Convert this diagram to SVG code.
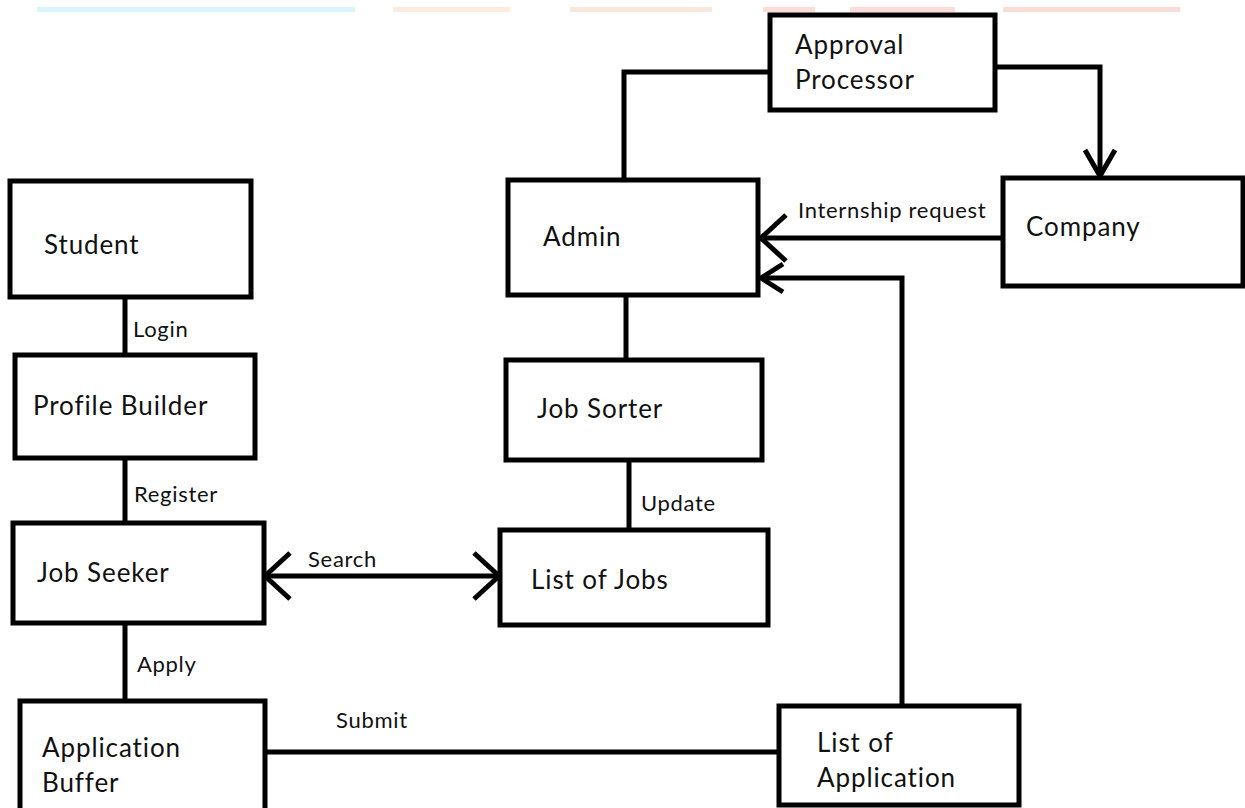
<svg xmlns="http://www.w3.org/2000/svg" width="1245" height="808" viewBox="0 0 1245 808">
<style>
.box{fill:#fff;stroke:#000;stroke-width:5}
.t{font-family:Lato,"Open Sans",sans-serif;font-size:26px;letter-spacing:0.9px;fill:#111}
.l{font-family:Lato,"Open Sans",sans-serif;font-size:22px;letter-spacing:0.7px;fill:#111}
.c{fill:none;stroke:#000;stroke-width:5}
</style>
<defs>
<marker id="chev" markerUnits="userSpaceOnUse" viewBox="-30 -28 34 56" refX="0" refY="0" markerWidth="34" markerHeight="56" orient="auto-start-reverse">
<path d="M-25,-23 L0,0 L-25,23" fill="none" stroke="#000" stroke-width="5"/>
</marker>
<marker id="chevn" markerUnits="userSpaceOnUse" viewBox="-30 -28 34 56" refX="0" refY="0" markerWidth="34" markerHeight="56" orient="auto">
<path d="M-26,-15 L0,0 L-26,15" fill="none" stroke="#000" stroke-width="5"/>
</marker>
<marker id="chevs" markerUnits="userSpaceOnUse" viewBox="-30 -28 34 56" refX="0" refY="0" markerWidth="34" markerHeight="56" orient="auto">
<path d="M-22,-14 L0,0 L-22,14" fill="none" stroke="#000" stroke-width="5"/>
</marker>
</defs>
<rect width="1245" height="808" fill="#fff"/>
<g id="bars">
<rect x="37" y="7" width="318" height="5" fill="#d6f6fa"/>
<rect x="393" y="7" width="117" height="5" fill="#fcebdf"/>
<rect x="570" y="7" width="142" height="5" fill="#fbe6dc"/>
<rect x="763" y="7" width="52" height="5" fill="#fbdcd8"/>
<rect x="850" y="7" width="105" height="5" fill="#fbdcd8"/>
<rect x="1003" y="7" width="177" height="5" fill="#fbdcd8"/>
</g>
<g id="connectors">
<line class="c" x1="125" y1="297" x2="125" y2="355"/>
<line class="c" x1="125" y1="458" x2="125" y2="523"/>
<line class="c" x1="125" y1="623" x2="125" y2="701"/>
<line class="c" x1="265" y1="752" x2="779" y2="752"/>
<line class="c" x1="265" y1="576" x2="499" y2="576" marker-start="url(#chev)" marker-end="url(#chev)"/>
<line class="c" x1="626" y1="295" x2="626" y2="360"/>
<line class="c" x1="629" y1="460" x2="629" y2="530"/>
<polyline class="c" points="624,180 624,72 770,72"/>
<polyline class="c" points="995,67 1100,67 1100,176" marker-end="url(#chevn)"/>
<line class="c" x1="1003" y1="238" x2="761" y2="238" marker-end="url(#chev)"/>
<polyline class="c" points="902,706 902,278 761,278" marker-end="url(#chevs)"/>
<text class="l" x="133" y="337">Login</text>
<text class="l" x="134" y="502">Register</text>
<text class="l" x="137" y="672">Apply</text>
<text class="l" x="336" y="728">Submit</text>
<text class="l" x="308" y="567">Search</text>
<text class="l" x="641" y="511">Update</text>
<text class="l" x="798" y="218">Internship request</text>
</g>
<g id="approval"><rect class="box" x="770" y="15" width="225" height="95"/><text class="t" x="795" y="54">Approval</text><text class="t" x="795" y="89">Processor</text></g>
<g id="admin"><rect class="box" x="508" y="180" width="250" height="115"/><text class="t" x="543" y="246">Admin</text></g>
<g id="company"><rect class="box" x="1003" y="178" width="240" height="108"/><text class="t" x="1026" y="236">Company</text></g>
<g id="student"><rect class="box" x="10" y="181" width="241" height="116"/><text class="t" x="44" y="254">Student</text></g>
<g id="profile"><rect class="box" x="15" y="355" width="240" height="103"/><text class="t" x="33" y="415">Profile Builder</text></g>
<g id="jobsorter"><rect class="box" x="506" y="360" width="256" height="100"/><text class="t" x="537" y="418">Job Sorter</text></g>
<g id="jobseeker"><rect class="box" x="13" y="523" width="251" height="100"/><text class="t" x="37" y="582">Job Seeker</text></g>
<g id="listjobs"><rect class="box" x="500" y="530" width="268" height="95"/><text class="t" x="531" y="589">List of Jobs</text></g>
<g id="appbuffer"><rect class="box" x="20" y="701" width="245" height="112"/><text class="t" x="42" y="757">Application</text><text class="t" x="42" y="792">Buffer</text></g>
<g id="listapp"><rect class="box" x="779" y="706" width="240" height="99"/><text class="t" x="817" y="752">List of</text><text class="t" x="817" y="787">Application</text></g>
</svg>
